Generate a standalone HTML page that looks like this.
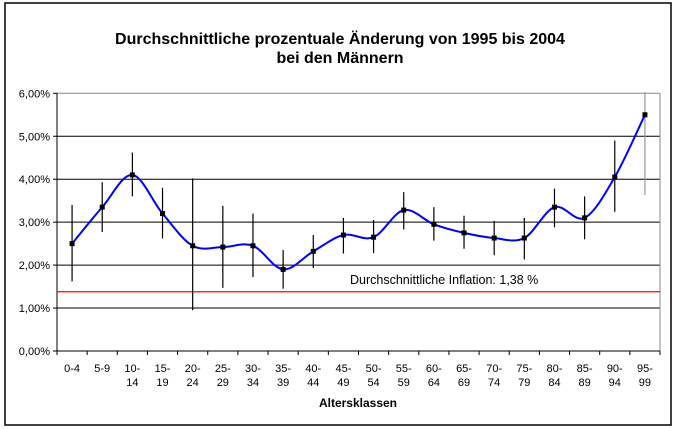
<!DOCTYPE html>
<html><head><meta charset="utf-8"><style>
html,body{margin:0;padding:0;background:#fff;width:676px;height:429px;overflow:hidden}
svg text{font-family:"Liberation Sans",Arial,sans-serif}
</style></head><body>
<svg id="c" width="676" height="429">
<rect x="5" y="3" width="666" height="422" fill="#fff" stroke="#000" stroke-width="1.5"/>
<text x="340" y="44" text-anchor="middle" font-size="16" font-weight="bold">Durchschnittliche prozentuale Änderung von 1995 bis 2004</text>
<text x="340" y="63" text-anchor="middle" font-size="16" font-weight="bold">bei den Männern</text>
<text x="358" y="407" text-anchor="middle" font-size="12" font-weight="bold">Altersklassen</text>
<g id="g"></g>
</svg>
<script>
const categories=["0-4","5-9","10-14","15-19","20-24","25-29","30-34","35-39","40-44","45-49","50-54","55-59","60-64","65-69","70-74","75-79","80-84","85-89","90-94","95-99"];
const values=[2.5,3.35,4.1,3.2,2.45,2.42,2.45,1.9,2.32,2.7,2.65,3.28,2.95,2.75,2.63,2.63,3.35,3.1,4.05,5.5];
const errLow=[1.62,2.77,3.6,2.62,0.95,1.47,1.72,1.45,1.93,2.27,2.28,2.83,2.57,2.38,2.23,2.13,2.88,2.6,3.24,3.63];
const errHigh=[3.4,3.93,4.62,3.8,4.02,3.38,3.2,2.35,2.7,3.1,3.05,3.7,3.35,3.15,3.03,3.1,3.78,3.6,4.9,6.03];
const yTicks=[0,1,2,3,4,5,6];
const yTickLabels=["0,00%","1,00%","2,00%","3,00%","4,00%","5,00%","6,00%"];
const inflation=[1.38];
const X0=57,X1=660,Y0=351,Y6=93.3;
const bw=(X1-X0)/categories.length;
const xs=i=>X0+bw*(i+0.5);
const ys=v=>Y0-(v/6)*(Y0-Y6);
const g=document.getElementById('g');
const NS="http://www.w3.org/2000/svg";
function mk(t,a){const e=document.createElementNS(NS,t);for(const k in a)e.setAttribute(k,a[k]);g.appendChild(e);return e;}
yTicks.forEach((t,i)=>{
  if(t>0){const l=mk('line',{x1:X0,x2:X1,y1:ys(t),y2:ys(t),stroke:t==6?'#888':'#000','stroke-width':1});
  
  }
  const tk=mk('line',{x1:X0-4,x2:X0,y1:ys(t),y2:ys(t),stroke:'#000'});
  
  
  const tx=mk('text',{x:X0-7,y:ys(t)+4,'text-anchor':'end','font-size':11});
  tx.textContent=yTickLabels[i];
  
  
});
const rb=mk('line',{x1:X1,x2:X1,y1:Y6,y2:Y0,stroke:'#888'});


const ya=mk('line',{x1:X0,x2:X0,y1:Y6,y2:Y0,stroke:'#000'});


const xa=mk('line',{x1:X0,x2:X1,y1:Y0,y2:Y0,stroke:'#000'});


for(let i=0;i<=categories.length;i++){
  const t=mk('line',{x1:X0+bw*i,x2:X0+bw*i,y1:Y0,y2:Y0+4,stroke:'#000'});
  
  
}
categories.forEach((c,i)=>{
  const p=c.split('-');
  const single=p[0].length==1&&p[1].length==1;
  const t=mk('text',{x:xs(i),y:372,'text-anchor':'middle','font-size':11});
  t.textContent=single?c:p[0]+'-';
  
  
  if(!single){
    const t2=mk('text',{x:xs(i),y:386,'text-anchor':'middle','font-size':11});
    t2.textContent=p[1];
    
    
  }
});
const il=mk('line',{x1:X0,x2:X1,y1:ys(inflation[0]),y2:ys(inflation[0]),stroke:'#f00','stroke-width':1.2});


const it=mk('text',{x:350,y:284,'font-size':12.5});
it.textContent='Durchschnittliche Inflation: 1,38 %';


values.forEach((v,i)=>{
  const e=mk('line',{x1:xs(i),x2:xs(i),y1:ys(errLow[i]),y2:ys(errHigh[i]),stroke:i==values.length-1?'#999':'#000','stroke-width':1.2});
  
  
});
const P=values.map((v,i)=>[xs(i),ys(v)]);
let d='M'+P[0][0]+','+P[0][1];
for(let i=0;i<P.length-1;i++){
  const p0=P[i-1]||P[i],p1=P[i],p2=P[i+1],p3=P[i+2]||P[i+1];
  const c1=[p1[0]+(p2[0]-p0[0])/6,p1[1]+(p2[1]-p0[1])/6];
  const c2=[p2[0]-(p3[0]-p1[0])/6,p2[1]-(p3[1]-p1[1])/6];
  d+=' C'+c1+' '+c2+' '+p2;
}
const ln=mk('path',{d:d,fill:'none',stroke:'#00f','stroke-width':2});


P.forEach(p=>{
  const m=mk('rect',{x:p[0]-2.5,y:p[1]-2.5,width:5,height:5,fill:'#000'});
  
  
});
</script>
</body></html>
